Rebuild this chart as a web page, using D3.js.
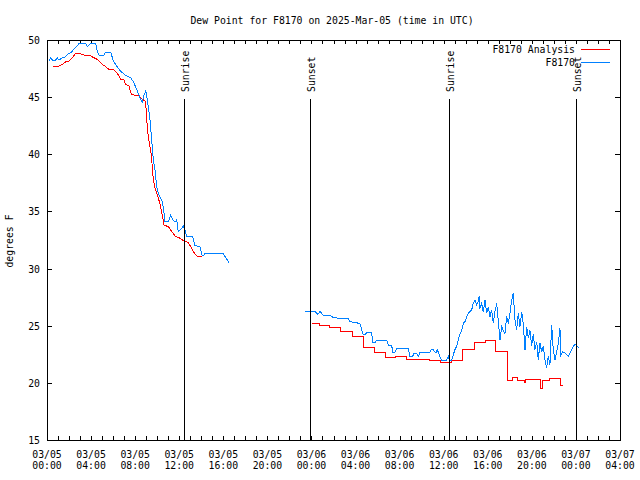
<!DOCTYPE html>
<html><head><meta charset="utf-8">
<script src="https://cdn.jsdelivr.net/npm/d3@7"></script>
<style>
body{margin:0;background:#fff}
text{font-family:"DejaVu Sans Mono","Liberation Mono",monospace;font-size:9.8px;fill:#000}
</style></head><body>
<svg id="c" width="640" height="480"></svg>
<script>
// ---- data (hours since 03/05 00:00 UTC) ----
const xTickHours = [0,4,8,12,16,20,24,28,32,36,40,44,48,52];
const xTickDates = ["03/05","03/05","03/05","03/05","03/05","03/05","03/06","03/06","03/06","03/06","03/06","03/06","03/07","03/07"];
const xTickTimes = ["00:00","04:00","08:00","12:00","16:00","20:00","00:00","04:00","08:00","12:00","16:00","20:00","00:00","04:00"];
const yTicks = [15,20,25,30,35,40,45,50];

const sunLabels = ["Sunrise","Sunset","Sunrise","Sunset"];
const sunHours  = [12.43, 23.87, 36.48, 48.0];

// Analysis, day 1 (linear)
const analysis1Hours = [0.54,0.93,1.39,1.70,2.00,2.30,2.60,2.90,3.36,3.97,4.26,4.56,5.02,5.33,5.63,6.08,6.38,6.69,6.99,7.14,7.44,7.65,8.05,8.35,8.65,8.89,
  8.98,9.05,9.19,9.44,9.56,9.65,9.80,9.95,10.25,10.40,10.55,
  10.62,11.01,11.32,11.62,12.07,12.37,12.82,13.04,13.28,13.64,14.04];
const analysis1Values = [47.64,47.64,47.87,48.08,48.16,48.45,48.83,48.83,48.69,48.6,48.45,48.3,47.87,47.66,47.43,47.38,47.08,46.56,46.5,46.12,45.98,45.25,45.16,45.1,44.81,44.66,
  44.16,43.0,41.54,40.09,38.9,37.75,37.03,36.6,35.7,34.98,34.25,
  33.8,33.67,33.23,32.85,32.65,32.44,32.27,31.92,31.48,31.04,31.04];

// Analysis, day 2 (hourly steps)
const analysis2Hours = [24.02,24.71,25.68,26.68,27.70,28.70,29.76,30.74,31.67,32.64,34.75,35.75,36.72,37.72,38.77,39.75,40.72,41.77,42.26,42.68,43.30,43.45,44.83,44.95,45.6,46.62,46.85];
const analysis2Values = [25.21,25.06,24.86,24.48,24.04,23.11,22.64,22.24,22.33,22.06,21.92,21.77,21.92,22.94,23.52,23.72,22.73,20.25,20.45,20.25,20.05,20.3,19.55,20.2,20.4,19.8,19.8];

// Observations F8170, day 1
const obs1Hours = [0.18,0.34,0.48,0.79,0.93,1.09,1.39,1.70,1.84,2.15,2.45,2.75,2.90,3.51,3.66,3.97,4.42,4.56,4.72,5.17,5.33,5.78,6.02,6.23,6.53,6.83,7.14,7.60,7.89,8.19,8.50,8.65,8.80,8.96,9.10,
  9.35,9.50,9.65,9.80,9.89,9.95,10.10,10.41,10.55,10.71,11.01,11.22,11.41,11.62,11.77,11.91,12.13,12.37,12.52,12.68,13.22,13.43,13.88,14.04,14.18,14.34,16.00,16.24,16.45,16.52];
const obs1Values = [48.16,48.45,48.25,48.25,48.45,48.25,48.45,48.54,48.75,48.89,49.19,49.48,49.71,49.71,49.41,49.71,49.71,49.04,48.66,48.66,48.95,48.95,48.16,47.87,47.44,47.14,46.91,46.70,46.26,45.54,44.81,44.58,45.16,45.54,44.81,
  43.0,41.25,39.5,38.63,37.75,37.17,36.59,36.0,35.42,34.1,34.1,34.7,34.25,34.1,34.25,33.23,33.4,33.7,33.34,32.82,32.82,32.0,31.94,31.22,31.13,31.31,31.31,30.93,30.64,30.5];

// Observations F8170, day 2
const obs2Hours = [23.41,24.32,24.59,24.77,25.07,25.68,25.83,26.43,27.34,27.50,28.40,28.65,28.86,29.01,29.46,29.56,29.76,29.92,30.83,30.97,31.28,31.37,31.58,31.73,32.79,32.94,33.18,33.30,33.55,33.69,33.85,34.75,34.85,35.05,35.30,35.42,35.66,35.82,36.27,36.42,36.51,36.72,
  36.87,37.02,37.18,37.32,37.48,37.63,37.78,37.93,38.09,38.23,38.38,38.54,38.68,38.84,38.99,39.14,39.23,39.29,39.45,39.59,39.75,39.90,40.05,40.20,40.35,40.50,40.65,40.81,40.95,
  41.11,41.26,41.41,41.56,41.71,41.86,42.02,42.17,42.31,42.47,42.62,42.77,42.92,43.08,43.22,43.38,43.53,43.68,43.83,43.98,44.13,44.28,44.44,44.58,44.74,44.89,45.04,45.19,45.34,45.49,45.64,45.80,45.94,
  46.10,46.25,46.40,46.55,46.64,46.80,47.01,47.31,47.61,47.91,48.12,48.30];
const obs2Values = [26.25,26.25,26.0,26.25,25.93,25.93,25.78,25.65,25.65,25.35,25.2,24.3,24.2,24.4,24.4,23.5,23.5,23.75,23.75,23.3,23.3,22.7,22.7,23.0,23.0,22.3,22.3,22.6,22.6,22.3,22.65,22.65,22.9,22.9,22.6,22.9,22.3,22.0,22.0,22.3,22.0,22.0,
  22.45,22.9,23.2,23.75,24.3,24.6,25.2,25.35,25.8,26.1,26.23,26.38,26.95,27.25,26.8,27.1,27.6,26.5,26.95,26.2,27.25,26.1,26.66,25.8,26.38,25.21,26.23,26.95,25.5,
  23.75,24.9,24.6,24.3,25.8,25.2,26.1,27.25,27.85,25.5,24.6,26.1,24.9,26.2,25.2,22.9,24.9,23.9,24.6,23.2,24.3,22.9,23.6,22.0,23.5,22.7,23.2,22.0,21.3,22.3,21.55,25.05,22.9,
  22.0,22.7,23.45,24.8,22.4,22.7,22.6,22.35,22.9,23.4,23.2,23.05];

const seriesNames = ["F8170 Analysis","F8170"];
const seriesColors = ["#ff0000","#0080ff"];

// ---- drawing ----
const svg = d3.select("#c");
const L=47, R=620, T=40, B=440;
const x = d3.scaleLinear().domain([0,52]).range([L,R]);
const y = d3.scaleLinear().domain([15,50]).range([B,T]);

svg.append("rect").attr("width",640).attr("height",480).attr("fill","#fff");

// title
svg.append("text").attr("x",332).attr("y",23.5).attr("text-anchor","middle")
  .text("Dew Point for F8170 on 2025-Mar-05 (time in UTC)");

// y label
svg.append("text").attr("transform","translate(13,241) rotate(-90)").attr("text-anchor","middle").text("degrees F");

const crisp = g => g.attr("shape-rendering","crispEdges");
const minorHours = d3.range(0,53,1);

// x axes (ticks inward)
const gxb = svg.append("g").attr("transform",`translate(0,${B})`)
  .call(d3.axisBottom(x).tickValues(minorHours).tickSize(-4).tickFormat(""));
const gxt = svg.append("g").attr("transform",`translate(0,${T})`)
  .call(d3.axisTop(x).tickValues(minorHours).tickSize(-4).tickFormat(""));
// y axes
const gyl = svg.append("g").attr("transform",`translate(${L},0)`)
  .call(d3.axisLeft(y).tickValues(yTicks).tickSize(-5).tickPadding(7).tickFormat(d3.format("d")));
const gyr = svg.append("g").attr("transform",`translate(${R},0)`)
  .call(d3.axisRight(y).tickValues(yTicks).tickSize(-5).tickFormat(""));
[gxb,gxt,gyl,gyr].forEach(g=>{
  g.select(".domain").remove();
  g.selectAll("line").attr("stroke","#000").call(crisp);
  g.selectAll("text").attr("font-family",null).attr("font-size",null).style("fill","#000");
});
gyl.selectAll(".tick text").attr("dy","0.35em");

// x tick labels (two lines)
const xl = svg.append("g");
xTickHours.forEach((h,i)=>{
  const t = xl.append("text").attr("text-anchor","middle");
  t.append("tspan").attr("x",x(h)).attr("y",457.5).text(xTickDates[i]);
  t.append("tspan").attr("x",x(h)).attr("y",468.7).text(xTickTimes[i]);
});

// border
svg.append("rect").attr("x",L).attr("y",T).attr("width",R-L).attr("height",B-T)
  .attr("fill","none").attr("stroke","#000").call(crisp);

// lines
const lin = d3.line().x(d=>x(d[0])).y(d=>y(d[1]));
const stp = d3.line().x(d=>x(d[0])).y(d=>y(d[1])).curve(d3.curveStepAfter);
const zip = (a,b)=>a.map((v,i)=>[v,b[i]]);
function drawPath(gen, data, color){
  svg.append("path").attr("d",gen(data)).attr("fill","none").attr("stroke",color)
    .attr("stroke-width",1).call(crisp);
}
drawPath(lin, zip(analysis1Hours,analysis1Values), seriesColors[0]);
drawPath(stp, zip(analysis2Hours,analysis2Values), seriesColors[0]);
drawPath(lin, zip(obs1Hours,obs1Values), seriesColors[1]);
drawPath(lin, zip(obs2Hours,obs2Values), seriesColors[1]);

// sunrise / sunset
sunHours.forEach((h,i)=>{
  const px = Math.round(x(h));
  svg.append("line").attr("x1",px).attr("x2",px).attr("y1",99).attr("y2",B)
    .attr("stroke","#000").call(crisp);
  svg.append("text").attr("transform",`translate(${px+4.5},92) rotate(-90)`)
    .attr("text-anchor","start").text(sunLabels[i]);
});

// legend
seriesNames.forEach((n,i)=>{
  const yy = 49 + i*13.3;
  svg.append("text").attr("x",575).attr("y",yy+3.5).attr("text-anchor","end").text(n);
  svg.append("line").attr("x1",581).attr("x2",610).attr("y1",Math.round(yy)+0.5).attr("y2",Math.round(yy)+0.5)
    .attr("stroke",seriesColors[i]).attr("stroke-width",1);
});
</script>
</body></html>
